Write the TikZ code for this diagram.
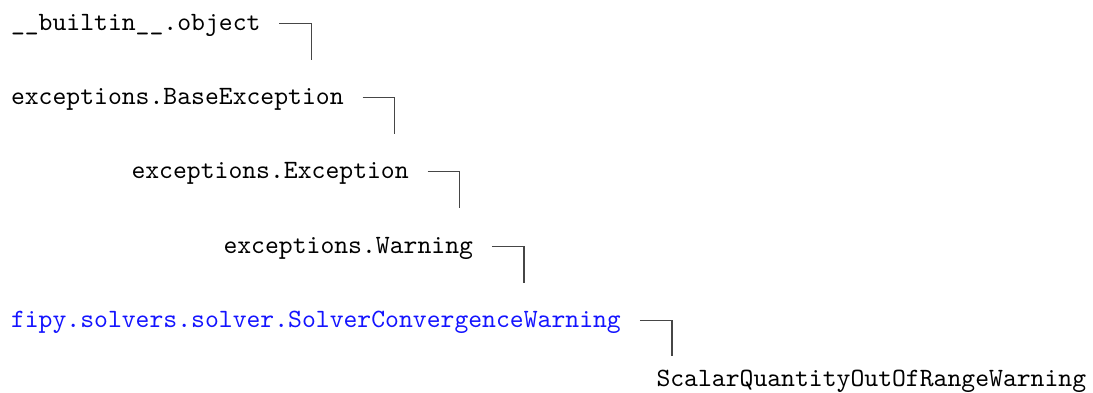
\documentclass[tikz,border=0pt]{standalone}
\usepackage{fontspec}
\setmonofont{lmmono10-regular.otf}
\usetikzlibrary{calc}
\definecolor{linkblue}{RGB}{20,20,255}
\definecolor{conngray}{RGB}{70,70,70}
\tikzset{
  cls/.style={anchor=base west, inner sep=0pt, outer sep=0pt, font=\fontsize{26.4}{30}\selectfont\ttfamily, text=black},
  linkcls/.style={cls, text=linkblue},
  conn/.style={draw=conngray, line width=1.4pt}
}
\begin{document}
\begin{tikzpicture}[x=1pt,y=1pt]
\useasboundingbox (0,0) rectangle (1093,-392);
\node[cls] (n1) at (11,-30) {\_\_builtin\_\_.object};
\node[cls] (n2) at (11,-104) {exceptions.BaseException};
\node[cls] (n3) at (131.5,-178) {exceptions.Exception};
\node[cls] (n4) at (223.5,-253) {exceptions.Warning};
\node[linkcls] (n5) at (11,-327) {fipy.solvers.solver.SolverConvergenceWarning};
\node[cls] (n6) at (656.5,-386) {ScalarQuantityOutOfRangeWarning};
\foreach \n/\len in {n1/37, n2/37, n3/37, n4/37, n5/36} {
  \draw[conn] ($(\n.base east)+(19,6.7)$) -- ++(32,0) -- ++(0,-\len);
}
\end{tikzpicture}
\end{document}
